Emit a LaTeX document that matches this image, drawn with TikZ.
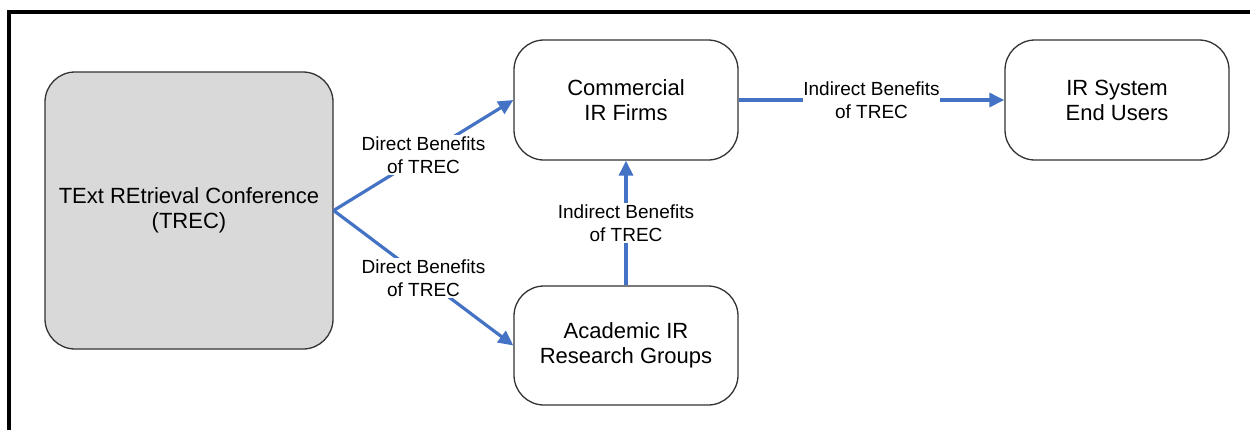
\documentclass[tikz,border=0pt]{standalone}
\usepackage{fontspec}
\setmainfont{Liberation Sans}
\usetikzlibrary{arrows.meta}
\definecolor{arrowblue}{HTML}{4472C4}
\definecolor{boxgray}{HTML}{D9D9D9}
\begin{document}
\begin{tikzpicture}[x=1pt,y=-1pt,
  box/.style={draw=black!80, line width=1.3pt, rounded corners=30pt, align=center,
    font=\fontsize{22}{25}\selectfont, inner sep=0pt},
  conn/.style={draw=arrowblue, line width=3.2pt, -{Triangle[length=15pt,width=14pt]}},
  lbl/.style={fill=white, inner xsep=0.5pt, inner ysep=2pt, align=center,
    font=\fontsize{19}{22.5}\selectfont, text=black}]
\useasboundingbox (0,0) rectangle (1250,429);
% frame
\draw[line width=4pt] (9,440) -- (9,12) -- (1260,12);
% boxes
\node[box, fill=boxgray, minimum width=288pt, minimum height=277pt] (trec) at (189,210.5)
  {TExt REtrieval Conference\\(TREC)};
\node[box, fill=white, minimum width=224pt, minimum height=120pt] (comm) at (626,100)
  {Commercial\\IR Firms};
\node[box, fill=white, minimum width=224pt, minimum height=119pt] (acad) at (626,345.5)
  {Academic IR\\Research Groups};
\node[box, fill=white, minimum width=224pt, minimum height=120pt] (users) at (1117,100)
  {IR System\\End Users};
% connectors
\draw[conn] (trec.east) -- node[lbl, midway] (l1) {Direct Benefits\\of TREC} (comm.west);
\draw[conn] (trec.east) -- node[lbl, midway] (l2) {Direct Benefits\\of TREC} (acad.west);
\draw[conn] (acad.north) -- node[lbl, midway] (l3) {Indirect Benefits\\of TREC} (comm.south);
\draw[conn] (comm.east) -- node[lbl, midway] (l4) {Indirect Benefits\\of TREC} (users.west);
\end{tikzpicture}
\end{document}
